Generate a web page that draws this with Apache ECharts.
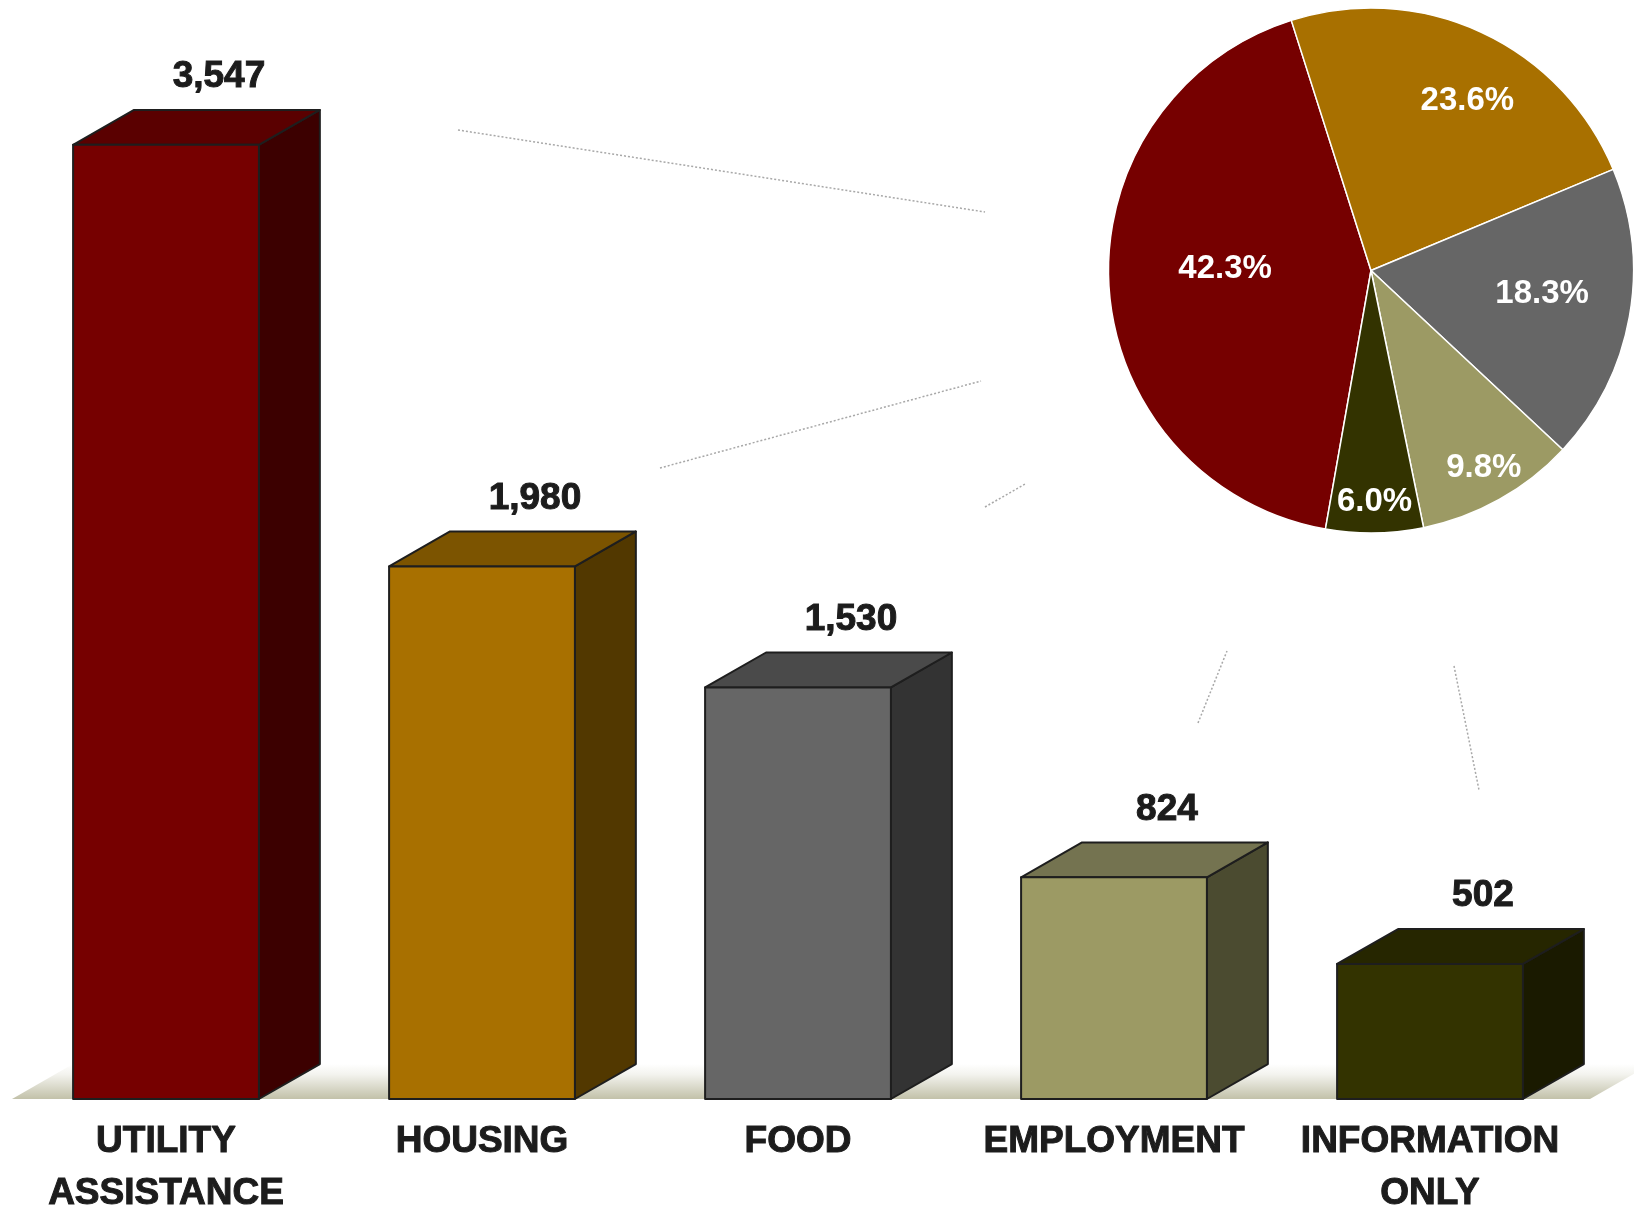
<!DOCTYPE html>
<html><head><meta charset="utf-8">
<script src="https://cdn.jsdelivr.net/npm/echarts@6/dist/echarts.min.js"></script>
<style>html,body{margin:0;padding:0;background:#fff}#c{width:1634px;height:1208px}</style>
</head><body><div id="c"></div>
<script>
// ---- data ----
const categories = ['UTILITY\nASSISTANCE', 'HOUSING', 'FOOD', 'EMPLOYMENT', 'INFORMATION\nONLY'];
const values = [3547, 1980, 1530, 824, 502];
const yMax = 4000;

// ---- styles ----
const frontColors = ['#760000', '#a87000', '#666666', '#9c9a64', '#333300'];
const topColors   = ['#5a0000', '#7c5400', '#4a4a4a', '#747350', '#262600'];
const sideColors  = ['#3c0000', '#523800', '#333333', '#4b4b30', '#1a1a00'];
const FONT = '"Liberation Sans", Arial, Helvetica, sans-serif';
const TEXT_COLOR = '#1c1c1c';

const pieCenter = [1371, 270.5];
const pieRadius = 262.5;
const pieStart = 260;
// label placement per slice: radial fraction and angular nudge (deg)
const labelRadial = [0.556, 0.742, 0.658, 0.867, 0.882];
const labelShift  = [-4.5, -4.8, 2.3, 0.45, 0.1];

const leaderLines = [
  [458, 130, 985, 212],
  [660, 468, 981, 381],
  [985, 507, 1025, 484],
  [1198, 723, 1227, 651],
  [1454, 666, 1479, 790]
];

const total = values.reduce((a, b) => a + b, 0);
const midAngles = [];
(function () {
  let cum = 0;
  values.forEach(v => {
    const s = pieStart - 360 * cum / total;
    midAngles.push(s - 180 * v / total);
    cum += v;
  });
})();

const chart = echarts.init(document.getElementById('c'), null, { renderer: 'canvas' });

const graphics = [
  {
    type: 'polygon', z: 0,
    shape: { points: [[12, 1099], [1590, 1099], [1651, 1064], [73, 1064]] },
    style: {
      fill: new echarts.graphic.LinearGradient(0, 0, 0, 1, [
        { offset: 0, color: '#ffffff' },
        { offset: 0.3, color: '#f3f3ee' },
        { offset: 1, color: '#c2c1a9' }
      ])
    }
  }
].concat(leaderLines.map(l => ({
  type: 'line', z: 1,
  shape: { x1: l[0], y1: l[1], x2: l[2], y2: l[3] },
  style: { stroke: '#a8a8a8', lineWidth: 1.5, lineDash: [2, 2] }
})));

chart.setOption({
  animation: false,
  backgroundColor: '#ffffff',
  graphic: graphics,
  grid: { left: 8, width: 1580, top: 23, height: 1076, containLabel: false, outerBoundsMode: 'none' },
  xAxis: {
    type: 'category',
    data: categories,
    axisLine: { show: false },
    axisTick: { show: false },
    splitLine: { show: false },
    axisLabel: {
      interval: 0,
      margin: 17,
      color: TEXT_COLOR,
      fontFamily: FONT,
      fontWeight: 'bold',
      fontSize: 37,
      lineHeight: 52,
      textBorderColor: TEXT_COLOR,
      textBorderWidth: 1
    }
  },
  yAxis: {
    type: 'value', min: 0, max: yMax, show: false,
    splitLine: { show: false }
  },
  series: [
    {
      type: 'custom',
      z: 2,
      data: values.map((v, i) => [i, v]),
      encode: { x: 0, y: 1 },
      renderItem: function (params, api) {
        const i = api.value(0), v = api.value(1);
        const pTop = api.coord([i, v]);
        const pBase = api.coord([i, 0]);
        const band = api.size([1, 0])[0];
        const w = band * 0.588;
        const dx = w * 0.328, dy = w * 0.188;
        const x0 = pTop[0] - w / 2, x1 = pTop[0] + w / 2;
        const yt = pTop[1], yb = pBase[1];
        const stroke = { stroke: '#1e1e1e', lineWidth: 2, lineJoin: 'round' };
        return {
          type: 'group',
          children: [
            { type: 'polygon', shape: { points: [[x1, yt], [x1 + dx, yt - dy], [x1 + dx, yb - dy], [x1, yb]] },
              style: Object.assign({ fill: sideColors[i] }, stroke) },
            { type: 'polygon', shape: { points: [[x0, yt], [x0 + dx, yt - dy], [x1 + dx, yt - dy], [x1, yt]] },
              style: Object.assign({ fill: topColors[i] }, stroke) },
            { type: 'rect', shape: { x: x0, y: yt, width: w, height: yb - yt },
              style: Object.assign({ fill: frontColors[i] }, stroke) },
            { type: 'text', x: pTop[0] + w * 0.285, y: yt - dy - 33,
              style: { text: v.toLocaleString('en-US'), fill: TEXT_COLOR,
                       stroke: TEXT_COLOR, lineWidth: 1,
                       font: 'bold 37px ' + FONT, align: 'center', verticalAlign: 'middle' } }
          ]
        };
      }
    },
    {
      type: 'pie',
      z: 3,
      center: pieCenter,
      radius: pieRadius,
      startAngle: pieStart,
      clockwise: true,
      silent: true,
      data: values.map((v, i) => ({ name: categories[i], value: v, itemStyle: { color: frontColors[i] } })),
      itemStyle: { borderColor: '#ffffff', borderWidth: 1.5 },
      label: {
        show: true,
        position: 'inside',
        color: '#ffffff',
        fontFamily: FONT,
        fontWeight: 'bold',
        fontSize: 33,
        formatter: p => (p.value / total * 100).toFixed(1) + '%'
      },
      labelLine: { show: false },
      labelLayout: function (p) {
        const i = p.dataIndex;
        const a = (midAngles[i] + labelShift[i]) * Math.PI / 180;
        const r = pieRadius * labelRadial[i];
        return {
          x: pieCenter[0] + r * Math.cos(a),
          y: pieCenter[1] - r * Math.sin(a),
          align: 'center',
          verticalAlign: 'middle'
        };
      }
    }
  ]
});
</script>
</body></html>
